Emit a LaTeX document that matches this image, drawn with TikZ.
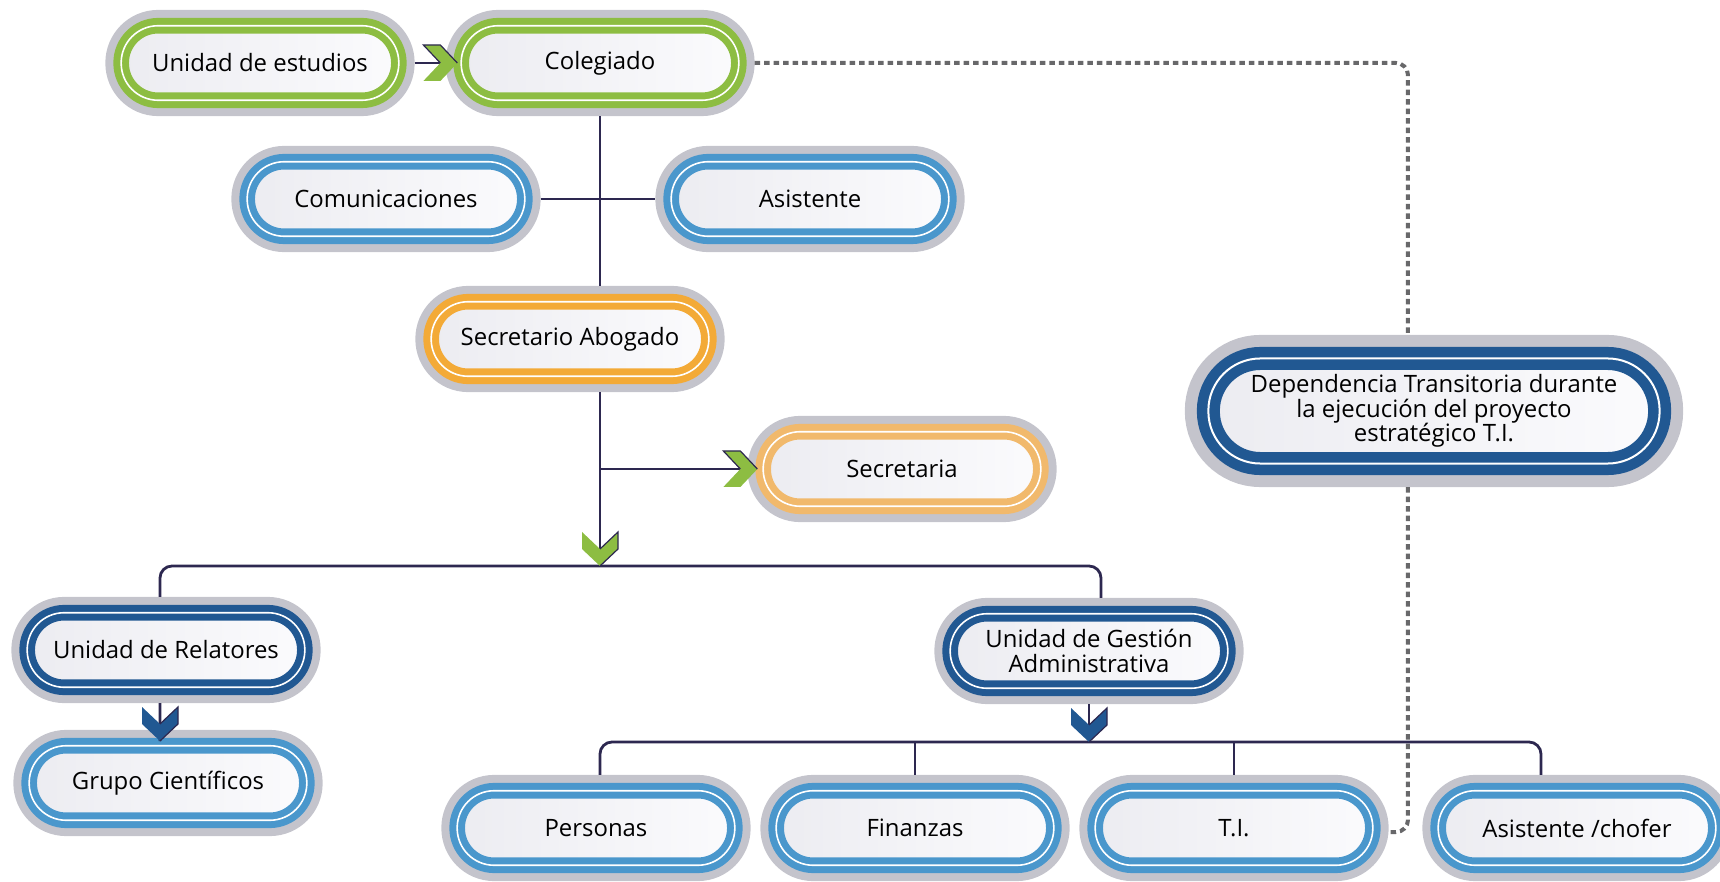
\documentclass[tikz,border=0pt]{standalone}
\usepackage{fontspec}
\setmainfont{Open Sans}
\usepackage{tikz}
\usetikzlibrary{calc}

\definecolor{halo}{RGB}{196,196,204}
\definecolor{fillL}{RGB}{236,236,241}
\definecolor{fillR}{RGB}{251,251,253}
\definecolor{verde}{RGB}{141,189,66}
\definecolor{celeste}{RGB}{74,151,204}
\definecolor{azul}{RGB}{33,88,146}
\definecolor{naranja}{RGB}{243,170,55}
\definecolor{naranjaclaro}{RGB}{241,185,108}
\definecolor{linea}{RGB}{45,40,80}
\definecolor{guion}{RGB}{104,104,106}

\begin{document}
\begin{tikzpicture}[x=0.01cm,y=-0.01cm,
  base/.style={rectangle,inner sep=0pt,align=center,font=\fontsize{6.8}{6.9}\selectfont,
    left color=fillL,right color=fillR,double=white},
  caja/.style={base,minimum width=2.775cm,minimum height=0.745cm,rounded corners=0.37cm,
    outer sep=0.158cm,preaction={draw=halo,line width=0.316cm},
    draw=#1,line width=0.07cm,double distance=0.016cm},
  grande/.style={base,minimum width=4.51cm,minimum height=1.05cm,rounded corners=0.52cm,
    outer sep=0.235cm,preaction={draw=halo,line width=0.47cm},
    draw=#1,line width=0.105cm,double distance=0.02cm},
  conn/.style={draw=linea,line width=0.028cm},
  dashline/.style={draw=guion,line width=0.04cm,dash pattern=on 0.055cm off 0.04cm,rounded corners=0.12cm},
  pics/chev/.style 2 args={code={
    \fill[#1] (-34,-18) -- (-17,-18) -- (0,0) -- (-17,18) -- (-34,18) -- (-17,0) -- cycle;
    \draw[#2,line width=0.012cm,line join=miter] (-17,0) -- (-34,-18) -- (-17,-18) -- (0,0);
  }}]
\useasboundingbox (0,0) rectangle (1720,882);

\node[caja=verde] (ude) at (260,63) {Unidad de estudios};
\node[caja=verde] (coleg) at (600,63) {Colegiado};
\node[caja=celeste] (comun) at (386,199) {Comunicaciones};
\node[caja=celeste] (asist) at (810,199) {Asistente};
\node[caja=naranja] (secab) at (570,339) {Secretario Abogado};
\node[caja=naranjaclaro] (secr) at (902,469) {Secretaria};
\node[grande=azul] (dep) at (1434,411) {Dependencia Transitoria durante\\la ejecución del proyecto\\estratégico T.I.};
\node[caja=azul] (urel) at (166,650) {Unidad de Relatores};
\node[caja=celeste] (grupo) at (168,783) {Grupo Científicos};
\node[caja=azul] (uga) at (1089,651) {Unidad de Gestión\\Administrativa};
\node[caja=celeste] (pers) at (596,828) {Personas};
\node[caja=celeste] (fin) at (915,828) {Finanzas};
\node[caja=celeste] (ti) at (1234,828) {T.I.};
\node[caja=celeste] (chof) at (1577,828) {Asistente /chofer};

\coordinate (t1) at ([xshift=0.12cm]coleg.west);
\coordinate (t2) at ([xshift=0.1cm]secr.west);
\coordinate (bus1) at (600,566);
\coordinate (t3) at (160,741);
\coordinate (bus2) at (1089,742);

\draw[dashline] (coleg.east) -| ([xshift=-0.26cm]dep.north);
\draw[dashline] ([xshift=-0.26cm]dep.south) |- ([yshift=-0.04cm]ti.east);

\draw[conn] (ude.east) -- (t1);
\draw[conn] (coleg.south) -- (coleg.south |- secab.north);
\draw[conn] (comun.east) -- (asist.west);
\draw[conn] (coleg.south |- secab.south) -- (bus1);
\draw[conn] (t2 -| bus1) -- (t2);
\draw[conn,rounded corners=0.12cm] ([xshift=-0.06cm]urel.north) |- (bus1) -| ([xshift=0.12cm]uga.north);
\draw[conn] ([xshift=-0.06cm]urel.south) -- (t3);
\draw[conn] (uga.south) -- (bus2);
\draw[conn,rounded corners=0.12cm] ([xshift=0.04cm]pers.north) |- (bus2) -| ([xshift=-0.36cm]chof.north);
\draw[conn] (fin.north) -- (fin.north |- bus2);
\draw[conn] (ti.north) -- (ti.north |- bus2);

\pic at (t1) {chev={verde}{linea}};
\pic at (t2) {chev={verde}{linea}};
\pic[rotate=-90] at (bus1) {chev={verde}{linea}};
\pic[rotate=-90] at (t3) {chev={azul}{linea}};
\pic[rotate=-90] at (bus2) {chev={azul}{linea}};
\end{tikzpicture}
\end{document}
